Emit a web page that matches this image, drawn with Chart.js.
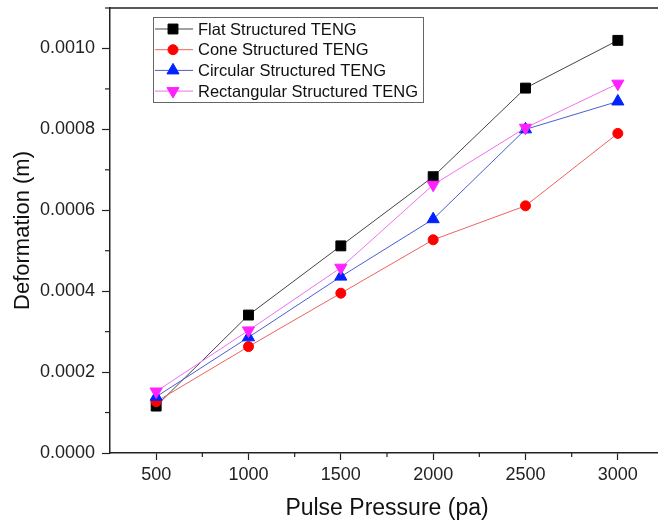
<!DOCTYPE html>
<html>
<head>
<meta charset="utf-8">
<script src="https://cdn.jsdelivr.net/npm/chart.js@4/dist/chart.umd.min.js"></script>
<style>
  html, body { margin:0; padding:0; background:#fff; overflow:hidden; }
  #wrap { width:658px; height:524px; overflow:hidden; }
</style>
</head>
<body>
<div id="wrap"><canvas id="c" width="672" height="524"></canvas></div>
<script>
// ====== DATA ======
const pressures = [500, 1000, 1500, 2000, 2500, 3000];
const flatVals = [0.000116, 0.000341, 0.000512, 0.000683, 0.000902, 0.00102];
const coneVals = [0.000127, 0.000263, 0.000395, 0.000527, 0.000611, 0.00079];
const circVals = [0.000139, 0.000286, 0.000436, 0.000578, 0.000800, 0.000869];
const rectVals = [0.000152, 0.000303, 0.000458, 0.000663, 0.000804, 0.000913];
const seriesNames = ['Flat Structured TENG', 'Cone Structured TENG', 'Circular Structured TENG', 'Rectangular Structured TENG'];
const xTicks = [500, 1000, 1500, 2000, 2500, 3000];
const yTicks = [0, 0.0002, 0.0004, 0.0006, 0.0008, 0.0010];

const FONT = '"Liberation Sans", Arial, sans-serif';

// later series sit on top, like the original plot
const mkSet = (label, vals, line, mark, style, r, order, rot) => ({
  label, order,
  data: pressures.map((x, i) => ({ x, y: vals[i] })),
  borderColor: line, borderWidth: 1,
  pointBackgroundColor: mark, pointBorderColor: mark,
  pointStyle: style, pointRotation: rot || 0,
  pointRadius: r, pointBorderWidth: 1,
  tension: 0, fill: false
});

const datasets = [
  mkSet(seriesNames[0], flatVals, '#444444', '#000000', 'rect', 7, 3),
  mkSet(seriesNames[1], coneVals, '#f06060', '#ff0000', 'circle', 5, 2),
  mkSet(seriesNames[2], circVals, '#4a5fd0', '#0022ff', 'triangle', 7, 1),
  mkSet(seriesNames[3], rectVals, '#f070f0', '#ff22ff', 'triangle', 7, 0, 180)
];

// ====== PLUGIN: frame, minor ticks, legend ======
const extras = {
  id: 'extras',
  afterDraw(chart){
    const { ctx, chartArea: a, scales: { x, y } } = chart;
    ctx.save();
    // top frame line
    ctx.strokeStyle = '#222'; ctx.lineWidth = 1.5;
    ctx.beginPath(); ctx.moveTo(a.left, a.top); ctx.lineTo(a.right, a.top); ctx.stroke();
    // minor ticks halfway between majors
    ctx.lineWidth = 1.2;
    for(let i = 0; i < xTicks.length; i++){
      const px = x.getPixelForValue(xTicks[i] - 250);
      if(px <= a.left + 1) continue;
      ctx.beginPath(); ctx.moveTo(px, a.bottom); ctx.lineTo(px, a.bottom + 4); ctx.stroke();
    }
    for(let i = 0; i < yTicks.length; i++){
      const py = y.getPixelForValue(yTicks[i] + 0.0001);
      ctx.beginPath(); ctx.moveTo(a.left, py); ctx.lineTo(a.left - 5, py); ctx.stroke();
    }
    // legend
    const bx = a.left + 43, by = a.top + 9, bw = 270, bh = 85;
    ctx.strokeStyle = '#666'; ctx.lineWidth = 1;
    ctx.strokeRect(bx + 0.5, by + 0.5, bw, bh);
    ctx.font = '16.5px ' + FONT;
    ctx.textBaseline = 'middle'; ctx.textAlign = 'left';
    chart.data.datasets.forEach((ds, i) => {
      const cy = by + 12 + i * 20.7;
      ctx.strokeStyle = ds.borderColor; ctx.lineWidth = 1;
      ctx.beginPath(); ctx.moveTo(bx + 2, cy); ctx.lineTo(bx + 40, cy); ctx.stroke();
      ctx.fillStyle = ds.pointBackgroundColor; ctx.strokeStyle = ds.pointBorderColor;
      Chart.helpers.drawPoint(ctx, { pointStyle: ds.pointStyle, radius: ds.pointRadius, rotation: ds.pointRotation, borderWidth: 1 }, bx + 20, cy);
      ctx.fillStyle = '#111';
      ctx.fillText(ds.label, bx + 45, cy + 1);
    });
    ctx.restore();
  }
};

new Chart(document.getElementById('c'), {
  type: 'line',
  data: { datasets },
  options: {
    responsive: false, animation: false,
    layout: { padding: { top: 8, right: 8, left: 0, bottom: 0 } },
    plugins: { legend: { display: false }, tooltip: { enabled: false } },
    scales: {
      x: {
        type: 'linear', min: 250, max: 3250,
        afterBuildTicks: s => { s.ticks = xTicks.map(v => ({ value: v })); },
        afterFit: s => { s.height = 71; s.paddingLeft = 0; s.paddingRight = 0; },
        border: { color: '#222', width: 1.5 },
        grid: { drawOnChartArea: false, tickLength: 7, tickColor: '#222', tickWidth: 1.2 },
        ticks: { color: '#222', font: { family: FONT, size: 18 }, padding: 4, maxRotation: 0, callback: v => String(v) },
        title: { display: true, text: 'Pulse Pressure (pa)', color: '#111', font: { family: FONT, size: 23 }, padding: { top: 4, bottom: 2 } }
      },
      y: {
        min: 0, max: 0.0011,
        afterBuildTicks: s => { s.ticks = yTicks.map(v => ({ value: v })); },
        afterFit: s => { s.width = 110; s.paddingTop = 0; s.paddingBottom = 0; },
        border: { color: '#222', width: 1.5 },
        grid: { drawOnChartArea: false, tickLength: 8, tickColor: '#222', tickWidth: 1.2 },
        ticks: { color: '#222', font: { family: FONT, size: 18 }, padding: 7, callback: v => v.toFixed(4) },
        title: { display: true, text: 'Deformation (m)', color: '#111', font: { family: FONT, size: 22 }, padding: { top: 10, bottom: 4 } }
      }
    }
  },
  plugins: [extras]
});
</script>
</body>
</html>
